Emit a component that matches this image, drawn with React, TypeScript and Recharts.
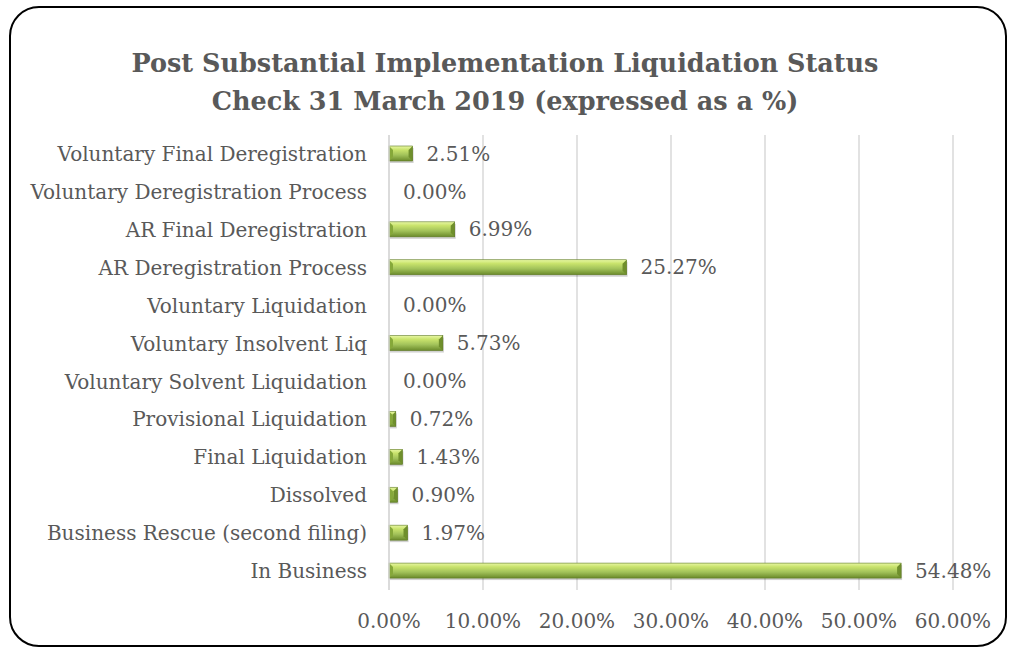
import React from 'react';
import { Bar, BarChart, CartesianGrid, LabelList, XAxis, YAxis } from 'recharts';

// top to bottom, as shown in the chart
const categories = [
  'Voluntary Final Deregistration',
  'Voluntary Deregistration Process',
  'AR Final Deregistration',
  'AR Deregistration Process',
  'Voluntary Liquidation',
  'Voluntary Insolvent Liq',
  'Voluntary Solvent Liquidation',
  'Provisional Liquidation',
  'Final Liquidation',
  'Dissolved',
  'Business Rescue (second filing)',
  'In Business',
];
const shares = [2.51, 0.0, 6.99, 25.27, 0.0, 5.73, 0.0, 0.72, 1.43, 0.9, 1.97, 54.48];
const xTicks = [0, 10, 20, 30, 40, 50, 60];
const titleLines = [
  'Post Substantial Implementation Liquidation Status',
  'Check 31 March 2019 (expressed as a %)',
];

const data = categories.map((name, i) => ({ name, value: shares[i] }));

const FONT = '"DejaVu Serif", serif';
const TEXT = '#595959';

const pct = (v: number) => `${v.toFixed(2)}%`;

const BevelBar = (props: any) => {
  const { x, y, width, height } = props;
  if (!width || width <= 0) return null;
  const b = Math.min(4, width / 2);
  return (
    <g>
      <rect x={x + 1} y={y + 2} width={width} height={height} fill="#000" opacity={0.18} />
      <rect x={x} y={y} width={width} height={height} fill="url(#barGrad)" />
      <polygon
        points={`${x + width - b},${y + b} ${x + width},${y} ${x + width},${y + height} ${x + width - b},${y + height - b}`}
        fill="#6f8f2c"
      />
      <polygon
        points={`${x},${y} ${x + b},${y + b} ${x + b},${y + height - b} ${x},${y + height}`}
        fill="#86a83a"
      />
      <rect x={x} y={y} width={width} height={height} fill="none" stroke="#5f7a25" strokeWidth={0.6} />
    </g>
  );
};

const App: React.FC = () => {
  return (
    <div style={{ position: 'absolute', left: 0, top: 0, width: 1010, height: 648, background: '#fff', overflow: 'hidden' }}>
      <div
        style={{
          position: 'absolute',
          left: 9,
          top: 6,
          width: 994,
          height: 637,
          border: '2px solid #000',
          borderRadius: 30,
        }}
      />
      <div
        style={{
          position: 'absolute',
          left: 0,
          top: 44,
          width: 1010,
          textAlign: 'center',
          fontFamily: FONT,
          fontWeight: 'bold',
          fontSize: 25.5,
          lineHeight: '38px',
          color: TEXT,
        }}
      >
        {titleLines.map((t) => (
          <div key={t}>{t}</div>
        ))}
      </div>
      <div style={{ position: 'absolute', left: 0, top: 0 }}>
        <BarChart
          width={1010}
          height={648}
          data={data}
          layout="vertical"
          margin={{ top: 135, right: 57, left: 0, bottom: 0 }}
          barCategoryGap="60%"
        >
          <defs>
            <linearGradient id="barGrad" x1="0" y1="0" x2="0" y2="1">
              <stop offset="0%" stopColor="#e8f7a4" />
              <stop offset="25%" stopColor="#c9e36c" />
              <stop offset="60%" stopColor="#a2c25a" />
              <stop offset="100%" stopColor="#6a8a2a" />
            </linearGradient>
          </defs>
          <CartesianGrid horizontal={false} stroke="#d9d9d9" strokeWidth={1.5} />
          <XAxis
            type="number"
            domain={[0, 60]}
            ticks={xTicks}
            tickFormatter={pct}
            axisLine={false}
            tickLine={false}
            tickSize={0}
            tickMargin={24}
            height={58}
            interval={0}
            tick={{ fill: TEXT, fontFamily: FONT, fontSize: 20 }}
          />
          <YAxis
            type="category"
            dataKey="name"
            width={389}
            axisLine={{ stroke: '#d9d9d9', strokeWidth: 1.5 }}
            tickLine={false}
            tickSize={0}
            tickMargin={22}
            interval={0}
            tick={{ fill: TEXT, fontFamily: FONT, fontSize: 20 }}
          />
          <Bar dataKey="value" barSize={15} shape={<BevelBar />} isAnimationActive={false}>
            <LabelList
              dataKey="value"
              position="right"
              offset={14}
              formatter={(v: any) => pct(Number(v))}
              style={{ fill: TEXT, fontFamily: FONT, fontSize: 20 }}
            />
          </Bar>
        </BarChart>
      </div>
    </div>
  );
};

export default App;
